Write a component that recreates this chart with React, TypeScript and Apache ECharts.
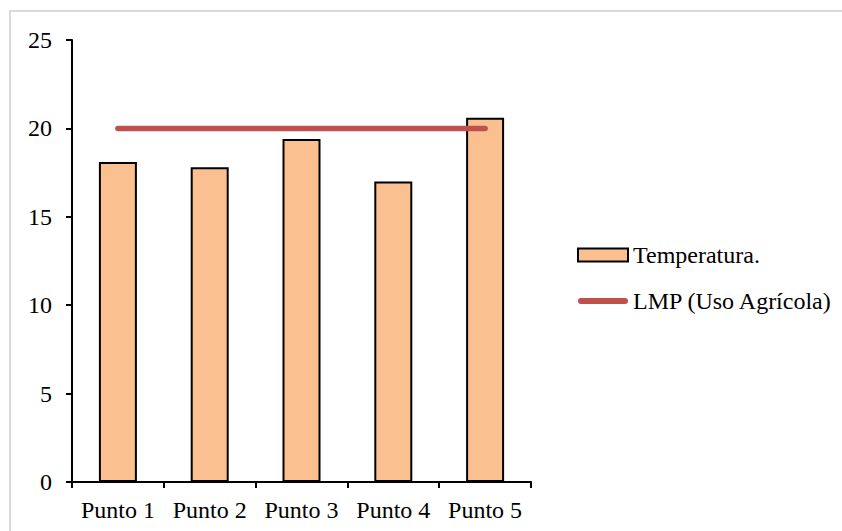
import React, { useEffect, useRef } from "react";
import * as echarts from "echarts";

const categories = ["Punto 1", "Punto 2", "Punto 3", "Punto 4", "Punto 5"];
const temperatura = [18.1, 17.8, 19.4, 17.0, 20.6];
const lmp = [20, 20, 20, 20, 20];
const yTicks = { min: 0, max: 25, interval: 5 };

const FONT = "Liberation Serif";
const FS = 24;

export default function App() {
  const ref = useRef<HTMLDivElement>(null);
  useEffect(() => {
    document.body.style.margin = "0";
    const chart = echarts.init(ref.current!, null, { renderer: "svg" });
    chart.setOption({
      animation: false,
      backgroundColor: "#fff",
      textStyle: { fontFamily: FONT, color: "#000" },
      graphic: [
        {
          type: "rect",
          shape: { x: 10, y: 11, width: 900, height: 600 },
          style: { fill: "none", stroke: "#d9d9d9", lineWidth: 2 },
          silent: true,
        },
      ],
      grid: { left: 72, right: 311, top: 40, bottom: 49, containLabel: false },
      legend: {
        orient: "vertical",
        left: 572,
        top: 238,
        itemWidth: 50,
        itemHeight: 13,
        itemGap: 22,
        textStyle: { fontFamily: FONT, fontSize: FS, color: "#000" },
        data: [
          { name: "Temperatura.", icon: "rect" },
          {
            name: "LMP (Uso Agrícola)",
            icon: "path://M3,0H47A3,3,0,0,1,47,6H3A3,3,0,0,1,3,0Z",
            itemStyle: { color: "#C0504D", borderWidth: 0 },
          },
        ],
      },
      xAxis: {
        type: "category",
        data: categories,
        axisLine: { lineStyle: { color: "#000", width: 2 } },
        axisTick: { show: true, length: 6, lineStyle: { color: "#000", width: 2 } },
        axisLabel: { fontFamily: FONT, fontSize: FS, color: "#000", margin: 16, interval: 0 },
        splitLine: { show: false },
      },
      yAxis: {
        type: "value",
        min: yTicks.min,
        max: yTicks.max,
        interval: yTicks.interval,
        axisLine: { show: true, lineStyle: { color: "#000", width: 2 } },
        axisTick: { show: true, length: 6, lineStyle: { color: "#000", width: 2 } },
        axisLabel: { fontFamily: FONT, fontSize: FS, color: "#000", margin: 20 },
        splitLine: { show: false },
      },
      series: [
        {
          name: "Temperatura.",
          type: "bar",
          data: temperatura,
          barWidth: 38,
          itemStyle: { color: "#FAC090", borderColor: "#000", borderWidth: 2 },
        },
        {
          name: "LMP (Uso Agrícola)",
          type: "line",
          data: lmp,
          symbol: "none",
          lineStyle: { color: "#C0504D", width: 5.5, cap: "round" },
          itemStyle: { color: "#C0504D" },
        },
      ],
    });
    return () => chart.dispose();
  }, []);
  return (
    <div
      ref={ref}
      style={{ position: "absolute", left: 0, top: 0, width: 842, height: 531 }}
    />
  );
}
